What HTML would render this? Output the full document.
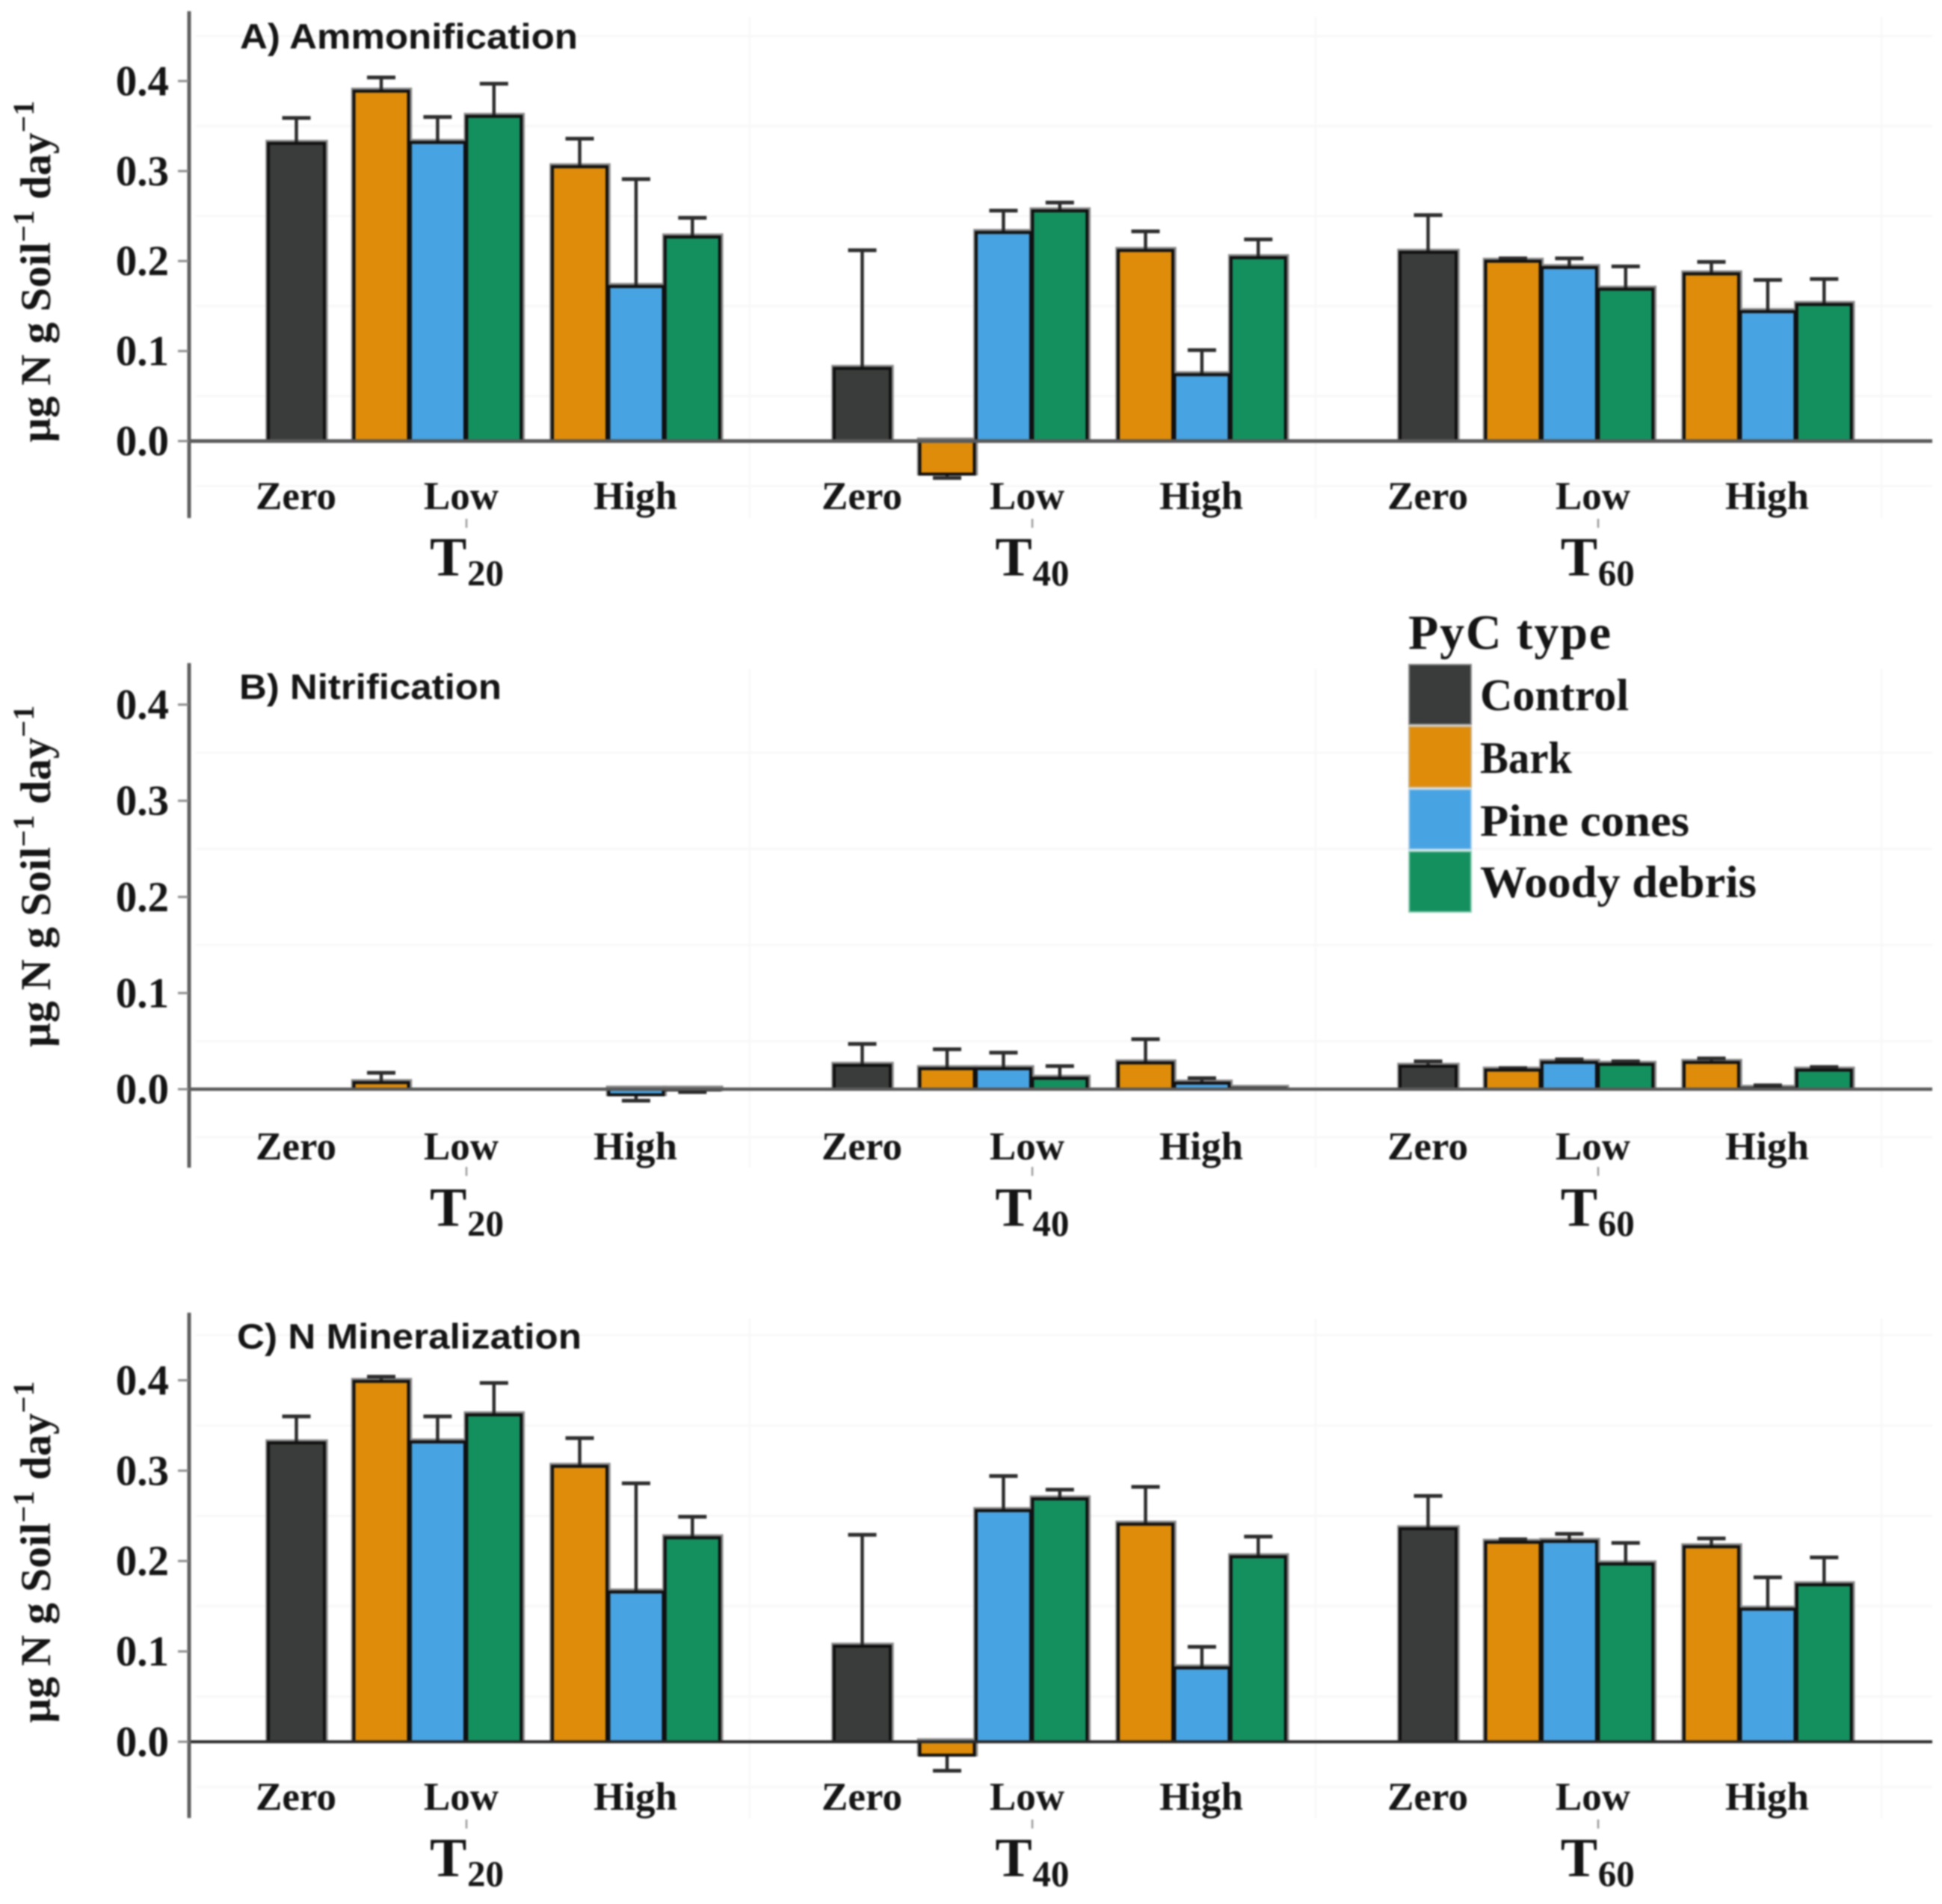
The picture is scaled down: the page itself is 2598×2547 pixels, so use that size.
<!DOCTYPE html>
<html lang="en">
<head>
<meta charset="utf-8">
<title>PyC type nitrogen rates</title>
<style>
html,body{margin:0;padding:0;background:#fff;width:2598px;height:2547px;overflow:hidden}
svg{display:block;filter:blur(1.1px)}
.serif{font-family:"Liberation Serif",serif;font-weight:bold;fill:#141414}
.sans{font-family:"Liberation Sans",sans-serif;font-weight:bold;fill:#141414}
</style>
</head>
<body>
<svg id="chart" xmlns="http://www.w3.org/2000/svg" width="2598" height="2547" viewBox="0 0 2598 2547">
  <rect x="0" y="0" width="2598" height="2547" fill="#ffffff"/>

  <g id="plots"></g>

  <text class="sans" x="321" y="65" font-size="47" textLength="452" lengthAdjust="spacingAndGlyphs">A) Ammonification</text>
  <text class="sans" x="320" y="935" font-size="47" textLength="351" lengthAdjust="spacingAndGlyphs">B) Nitrification</text>
  <text class="sans" x="317" y="1804" font-size="47" textLength="461" lengthAdjust="spacingAndGlyphs">C) N Mineralization</text>

  <text class="serif" transform="translate(67 592) rotate(-90)" font-size="57.5">µg N g Soil<tspan font-size="40" dy="-22">−1</tspan><tspan dy="22"> day</tspan><tspan font-size="40" dy="-22">−1</tspan></text>
  <text class="serif" transform="translate(67 1401) rotate(-90)" font-size="57.5">µg N g Soil<tspan font-size="40" dy="-22">−1</tspan><tspan dy="22"> day</tspan><tspan font-size="40" dy="-22">−1</tspan></text>
  <text class="serif" transform="translate(67 2305) rotate(-90)" font-size="57.5">µg N g Soil<tspan font-size="40" dy="-22">−1</tspan><tspan dy="22"> day</tspan><tspan font-size="40" dy="-22">−1</tspan></text>

  <g>
    <text class="serif" x="1884" y="868" font-size="66" textLength="271">PyC type</text>
    <rect x="1885" y="889" width="83" height="80" fill="#3a3c3b" stroke="#8a8a8a" stroke-width="2"/>
    <rect x="1885" y="972" width="83" height="81" fill="#de8c0a" stroke="#c9ad80" stroke-width="2"/>
    <rect x="1885" y="1056" width="83" height="80" fill="#48a3e2" stroke="#a6cdea" stroke-width="2"/>
    <rect x="1885" y="1139" width="83" height="81" fill="#14905f" stroke="#8fcdb4" stroke-width="2"/>
    <text class="serif" x="1980" y="950" font-size="60" textLength="199" lengthAdjust="spacingAndGlyphs">Control</text>
    <text class="serif" x="1980" y="1034" font-size="60" textLength="123" lengthAdjust="spacingAndGlyphs">Bark</text>
    <text class="serif" x="1980" y="1118" font-size="60" textLength="280" lengthAdjust="spacingAndGlyphs">Pine cones</text>
    <text class="serif" x="1980" y="1200" font-size="60" textLength="370" lengthAdjust="spacingAndGlyphs">Woody debris</text>
  </g>
</svg>

<script>
// Data: 7 bars per temperature: control, then bark / pine / woody at Low, then at High
const temperatures = ['20', '40', '60'];
const levels = ['Zero', 'Low', 'High'];
const barLevels = [0, 1, 1, 1, 2, 2, 2];
const barSeries = [0, 1, 2, 3, 1, 2, 3];
const seriesNames = ['control', 'bark', 'pine-cones', 'woody-debris'];
const seriesColors = ['#3a3c3b', '#de8c0a', '#48a3e2', '#14905f'];
const yTicks = [0, 0.1, 0.2, 0.3, 0.4];
const yTickLabels = ['0.0', '0.1', '0.2', '0.3', '0.4'];
const gridValues = [-0.05, 0.05, 0.15, 0.25, 0.35, 0.45];

const ammonificationValues = [
  0.332, 0.390, 0.333, 0.362, 0.306, 0.173, 0.228,
  0.082, -0.038, 0.233, 0.257, 0.213, 0.075, 0.205,
  0.211, 0.201, 0.194, 0.170, 0.187, 0.145, 0.153
];
const ammonificationErrorEnds = [
  0.359, 0.404, 0.360, 0.397, 0.336, 0.291, 0.248,
  0.212, -0.041, 0.256, 0.265, 0.233, 0.101, 0.224,
  0.251, 0.203, 0.203, 0.194, 0.199, 0.179, 0.180
];
const nitrificationValues = [
  0.000, 0.008, 0.000, 0.000, 0.000, -0.007, -0.002,
  0.026, 0.0225, 0.0225, 0.0125, 0.0285, 0.0075, 0.002,
  0.025, 0.021, 0.029, 0.027, 0.029, 0.002, 0.021
];
const nitrificationErrorEnds = [
  0.000, 0.017, 0.000, 0.000, 0.000, -0.012, -0.003,
  0.047, 0.0415, 0.038, 0.024, 0.052, 0.0115, 0.002,
  0.029, 0.022, 0.031, 0.029, 0.032, 0.004, 0.023
];
const mineralizationValues = [
  0.332, 0.400, 0.333, 0.363, 0.306, 0.167, 0.227,
  0.107, -0.016, 0.257, 0.270, 0.242, 0.083, 0.206,
  0.237, 0.222, 0.223, 0.198, 0.217, 0.148, 0.175
];
const mineralizationErrorEnds = [
  0.360, 0.404, 0.360, 0.397, 0.336, 0.286, 0.249,
  0.229, -0.032, 0.294, 0.279, 0.282, 0.105, 0.227,
  0.272, 0.224, 0.230, 0.220, 0.225, 0.182, 0.204
];

const panels = [
  { key: 'ammonification', zero: 590, unit: 1204, top: 15, bottom: 693, labelShift: 0, values: ammonificationValues, ends: ammonificationErrorEnds, zeroColor: '#5a5a5a', zeroWidth: 5 },
  { key: 'nitrification', zero: 1457, unit: 1286, top: 887, bottom: 1562, labelShift: 3, values: nitrificationValues, ends: nitrificationErrorEnds, zeroColor: '#5a5a5a', zeroWidth: 4.5 },
  { key: 'n-mineralization', zero: 2330, unit: 1209, top: 1756, bottom: 2432, labelShift: 0, values: mineralizationValues, ends: mineralizationErrorEnds, zeroColor: '#2a2a2a', zeroWidth: 4 }
];

const NS = 'http://www.w3.org/2000/svg';
const plots = document.getElementById('plots');
const FACET_STEP = 757;
const BAR_STEP = 75.4;
const EDGE_INSET = 1.5;

function make(tag, props, parent) {
  const el = document.createElementNS(NS, tag);
  for (const k in props) el.setAttribute(k, props[k]);
  parent.appendChild(el);
  return el;
}
function yScale(panel, v) { return panel.zero - v * panel.unit; }
function barEdge(panel, v) { return yScale(panel, v) + (v > 0 ? EDGE_INSET : v < 0 ? -EDGE_INSET : 0); }
function barCenter(facet, level, series) {
  const base = 396.5 + facet * FACET_STEP;
  if (level === 0) return base;
  const start = level === 1 ? 113.5 : 379;
  return base + start + (series - 1) * BAR_STEP;
}
function barHalfWidth(level) { return level === 0 ? 37.5 : 36.5; }
function labelCenter(facet, level) {
  return 396 + facet * FACET_STEP + (level === 0 ? 0 : level === 1 ? 221 : 454);
}

panels.forEach(function (panel) {
  const g = make('g', {}, plots);
  
  

  // gridlines
  gridValues.forEach(function (v) {
    const y = yScale(panel, v);
    if (y < panel.top) return;
    const line = make('line', { x1: 262, x2: 2585, y1: y, y2: y, stroke: '#f8f8f8', 'stroke-width': 3 }, g);
    
    
  });
  temperatures.forEach(function (t, f) {
    const x = 1003 + f * FACET_STEP;
    const line = make('line', { x1: x, x2: x, y1: panel.top + 8, y2: panel.bottom, stroke: '#f8f8f8', 'stroke-width': 3 }, g);
    
    
  });

  // bar halos (soft grey edge on the top/left of each bar)
  panel.values.forEach(function (value, i) {
    if (value === 0) return;
    const facet = Math.floor(i / 7);
    const level = barLevels[i % 7];
    const series = barSeries[i % 7];
    const half = barHalfWidth(level);
    const cx = barCenter(facet, level, series);
    const y0 = yScale(panel, 0);
    const yv = barEdge(panel, value);
    const halo = make('rect', {
      x: cx - half - 2, y: Math.min(y0, yv) - 3, width: 2 * half + 5,
      height: Math.abs(y0 - yv) + 3, fill: 'none', stroke: '#8c8c8c', 'stroke-width': 3.5
    }, g);
    
    
  });

  // error bars
  panel.values.forEach(function (value, i) {
    const facet = Math.floor(i / 7);
    const level = barLevels[i % 7];
    const series = barSeries[i % 7];
    const cx = barCenter(facet, level, series);
    const y0 = yScale(panel, value);
    const y1 = yScale(panel, panel.ends[i]);
    if (Math.abs(y1 - y0) < 0.5) return;
    const stem = make('line', { x1: cx, x2: cx, y1: y0, y2: y1, stroke: '#2c2c2c', 'stroke-width': 4.5 }, g);
    
    
    const cap = make('line', { x1: cx - 19, x2: cx + 19, y1: y1, y2: y1, stroke: '#2c2c2c', 'stroke-width': 5 }, g);
    
    
  });

  // bars
  panel.values.forEach(function (value, i) {
    if (value === 0) return;
    const facet = Math.floor(i / 7);
    const level = barLevels[i % 7];
    const series = barSeries[i % 7];
    const half = barHalfWidth(level);
    const cx = barCenter(facet, level, series);
    const y0 = yScale(panel, 0);
    const yv = barEdge(panel, value);
    const bar = make('rect', {
      x: cx - half, y: Math.min(y0, yv), width: 2 * half,
      height: Math.abs(y0 - yv), fill: seriesColors[series], stroke: '#101010', 'stroke-width': 4
    }, g);
    
    
  });

  // zero line
  const zeroLine = make('line', { x1: 253, x2: 2585, y1: panel.zero, y2: panel.zero, stroke: panel.zeroColor, 'stroke-width': panel.zeroWidth }, g);
  
  

  // y axis
  const axis = make('line', { x1: 253, x2: 253, y1: panel.top, y2: panel.bottom, stroke: '#5f5f5f', 'stroke-width': 5 }, g);
  
  

  yTicks.forEach(function (v, i) {
    const y = yScale(panel, v);
    const tick = make('line', { x1: 238, x2: 252, y1: y, y2: y, stroke: '#8c8c8c', 'stroke-width': 3 }, g);
    
    
    const label = make('text', { x: 226, y: y + 19, 'text-anchor': 'end', 'font-size': 57, class: 'serif' }, g);
    label.textContent = yTickLabels[i];
    
    
  });

  // x labels
  temperatures.forEach(function (t, f) {
    levels.forEach(function (name, l) {
      const label = make('text', { x: labelCenter(f, l), y: panel.zero + 91 + panel.labelShift, 'text-anchor': 'middle', 'font-size': 53, class: 'serif' }, g);
      label.textContent = name;
      
      
    });
    const tickX = 624 + f * FACET_STEP;
    const tick = make('line', { x1: tickX, x2: tickX, y1: panel.zero + 104, y2: panel.zero + 116, stroke: '#9a9a9a', 'stroke-width': 2.5 }, g);
    
    
    const tLabel = make('text', { x: 575 + f * 756.4, y: panel.zero + 180 + panel.labelShift, 'font-size': 74, class: 'serif' }, g);
    tLabel.textContent = 'T';
    
    
    const sub = make('text', { x: 625 + f * 756.4, y: panel.zero + 193 + panel.labelShift, 'font-size': 49, class: 'serif' }, g);
    sub.textContent = t;
    
    
  });
});
</script>
</body>
</html>
